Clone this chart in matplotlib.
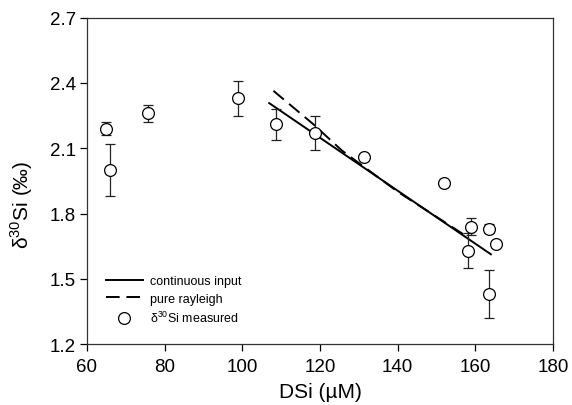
import matplotlib
matplotlib.use('Agg')
import matplotlib.pyplot as plt
from matplotlib.lines import Line2D

plt.rcParams['font.family'] = ['Liberation Sans', 'DejaVu Sans']
plt.rcParams['mathtext.fontset'] = 'custom'
plt.rcParams['mathtext.rm'] = 'Liberation Sans'

# measured d30Si
dsi = [64.9, 65.9, 75.8, 99.0, 108.6, 118.7, 131.2, 151.8, 158.8, 158.2, 163.5, 165.3, 163.6]
d30 = [2.19, 2.00, 2.26, 2.33, 2.21, 2.17, 2.06, 1.94, 1.74, 1.63, 1.73, 1.66, 1.43]
err = [0.03, 0.12, 0.04, 0.08, 0.07, 0.08, 0.0, 0.0, 0.04, 0.08, 0.02, 0.0, 0.11]

# model curves
cont_x = [106.7, 164.2]
cont_y = [2.31, 1.61]
ray_x = [108.0, 118.3, 125.6, 140.0, 157.3]
ray_y = [2.364, 2.21, 2.09, 1.90, 1.70]

fig = plt.figure(figsize=(5.72, 4.06), dpi=100)
ax = fig.add_axes([0.152, 0.150, 0.815, 0.804])

ax.plot(cont_x, cont_y, color='k', lw=1.4, solid_capstyle='butt')
ax.plot(ray_x, ray_y, color='k', lw=1.4, dashes=(7, 3.5))
ax.errorbar(dsi, d30, yerr=err, fmt='none', ecolor='#222222', elinewidth=0.9,
            capsize=3.5, capthick=0.9)
ax.plot(dsi, d30, 'o', ms=8.5, mfc='white', mec='k', mew=0.9)

ax.set_xlim(60, 180)
ax.set_ylim(1.2, 2.7)
ax.set_xticks([60, 80, 100, 120, 140, 160, 180])
ax.set_yticks([1.2, 1.5, 1.8, 2.1, 2.4, 2.7])
ax.tick_params(direction='out', length=5, width=0.9, labelsize=13.5,
               top=False, right=False)
ax.tick_params(axis='x', pad=5)
ax.tick_params(axis='y', pad=3)
for s in ax.spines.values():
  s.set_linewidth(0.9)
  s.set_color('#333333')

ax.set_xlabel('DSi (µM)', fontsize=15, labelpad=5)
ax.set_ylabel('δ$^{30}$Si (‰)', fontsize=15)
ax.yaxis.set_label_coords(-0.112, 0.43)

handles = [Line2D([], [], color='k', lw=1.4),
           Line2D([], [], color='k', lw=1.4, dashes=(7, 3.5)),
           Line2D([], [], ls='none', marker='o', ms=8.5, mfc='white', mec='k', mew=0.9)]
labels = ['continuous input', 'pure rayleigh', 'δ$^{30}$Si measured']
ax.legend(handles, labels, loc='upper left', bbox_to_anchor=(0.040, 0.212),
          frameon=False, fontsize=9, handlelength=3.0, handletextpad=0.55,
          borderaxespad=0, borderpad=0, labelspacing=0.45)

fig.savefig('out.png', dpi=100)
